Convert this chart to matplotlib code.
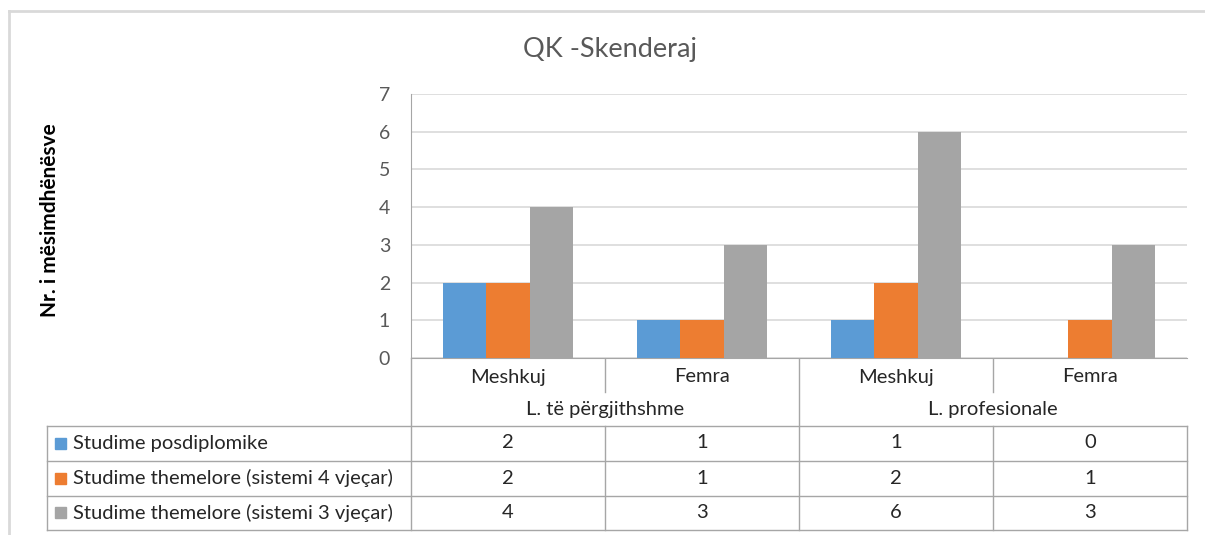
import numpy as np
import matplotlib.pyplot as plt
from matplotlib.transforms import blended_transform_factory
from matplotlib.patches import Rectangle

plt.rcParams['font.family'] = ['Lato', 'DejaVu Sans']

# data
categories = ["Meshkuj", "Femra", "Meshkuj", "Femra"]
groups = ["L. të përgjithshme", "L. profesionale"]
series_names = ["Studime posdiplomike",
                "Studime themelore (sistemi 4 vjeçar)",
                "Studime themelore (sistemi 3 vjeçar)"]
posdiplomike = [2, 1, 1, 0]
themelore_4 = [2, 1, 2, 1]
themelore_3 = [4, 3, 6, 3]
colors = ["#5B9BD5", "#ED7D31", "#A5A5A5"]

W, H = 1205, 535
fig = plt.figure(figsize=(W / 100, H / 100), dpi=100)

# pixel helper axes for frame + table
pix = fig.add_axes([0, 0, 1, 1])
pix.set_xlim(0, W)
pix.set_ylim(H, 0)
pix.axis("off")

# plot area: x 411..1187, y 94..358 (pixels)
left, right, top, bottom = 411, 1187, 94, 358
ax = fig.add_axes([left / W, 1 - bottom / H, (right - left) / W, (bottom - top) / H])

x = np.arange(len(categories))
bw = 1 / 4.5
all_series = [posdiplomike, themelore_4, themelore_3]
for i, vals in enumerate(all_series):
    ax.bar(x + (i - 1) * bw, vals, width=bw, color=colors[i], zorder=3)

ax.set_xlim(-0.5, len(categories) - 0.5)
ax.set_ylim(0, 7)
ax.set_yticks(range(0, 8))
ax.yaxis.grid(True, color="#D9D9D9", linewidth=1.2, zorder=0)
ax.set_xticks([])
ax.tick_params(axis="y", length=0, labelsize=14, labelcolor="#595959", pad=15)
for s in ["top", "right"]:
    ax.spines[s].set_visible(False)
ax.spines["left"].set_color("#A6A6A6")
ax.spines["bottom"].set_color("#A6A6A6")

# outer chart frame
pix.plot([9, 9], [11, H], color="#D9D9D9", lw=2)
pix.plot([9, W], [11, 11], color="#D9D9D9", lw=2)

fig.text(610 / W, 1 - 50 / H, "QK -Skenderaj", ha="center", va="center",
         fontsize=19.5, color="#595959")
fig.text(50 / W, 1 - 220 / H, "Nr. i mësimdhënësve", ha="center", va="center",
         rotation=90, fontsize=15, fontweight="bold", color="#000000")

# data table
lc = "#A6A6A6"
fs = 14.5
tc = "#262626"
tr = blended_transform_factory(ax.transData, pix.transData)
edges = np.arange(len(categories) + 1) - 0.5
row_top = [426, 461, 495.5]
row_bot = 530
tab_left = 47

for k, e in enumerate(edges):
    if k == 0:
        pix.plot([e, e], [bottom, row_bot], color=lc, lw=1, transform=tr)
    elif k == len(edges) - 1:
        pix.plot([e, e], [row_top[0], row_bot], color=lc, lw=1, transform=tr)
    elif k == 2:
        pix.plot([e, e], [bottom, row_bot], color=lc, lw=1, transform=tr)
    else:
        pix.plot([e, e], [bottom, 392], color=lc, lw=1, transform=tr)
        pix.plot([e, e], [row_top[0], row_bot], color=lc, lw=1, transform=tr)

for i, c in enumerate(categories):
    pix.text(x[i], 377, c, ha="center", va="center", fontsize=fs,
             color=tc, transform=tr)
for g, name in enumerate(groups):
    pix.text(2 * g + 0.5, 410, name, ha="center", va="center", fontsize=fs,
             color=tc, transform=tr)

for yy in row_top + [row_bot]:
    pix.plot([tab_left, right], [yy, yy], color=lc, lw=1)
pix.plot([tab_left, tab_left], [row_top[0], row_bot], color=lc, lw=1)

for r, (name, vals) in enumerate(zip(series_names, all_series)):
    yc = row_top[r] + 17
    pix.add_patch(Rectangle((55, yc - 5.5), 11, 11, color=colors[r]))
    pix.text(73, yc, name, ha="left", va="center", fontsize=fs, color=tc)
    for i, v in enumerate(vals):
        pix.text(x[i], yc, str(v), ha="center", va="center", fontsize=fs,
                 color=tc, transform=tr)

fig.savefig("out.png", dpi=100)
